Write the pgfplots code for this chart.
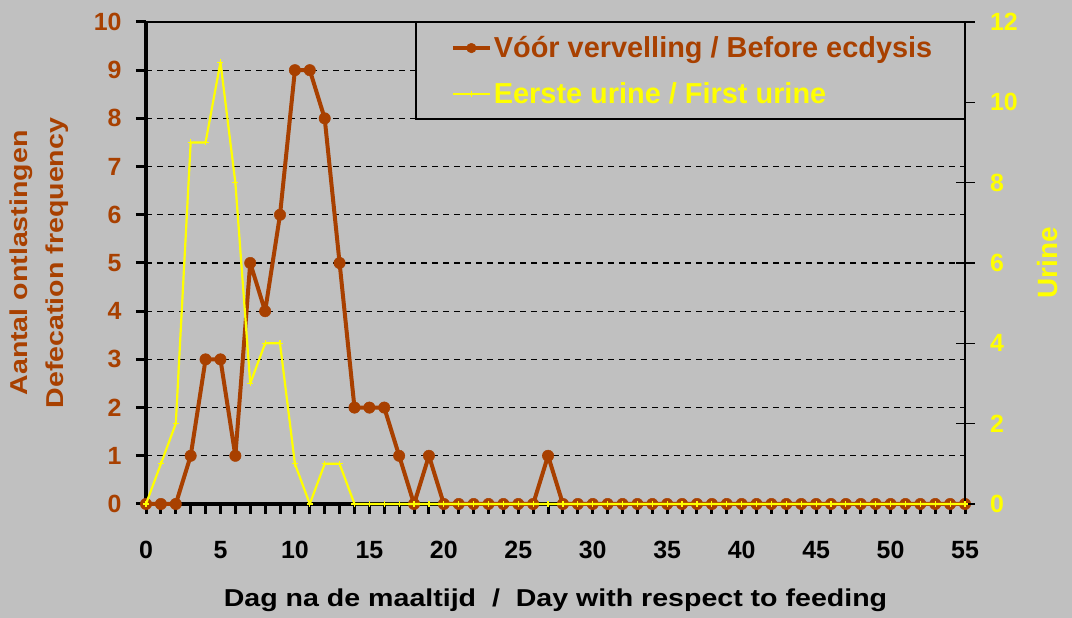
\documentclass[border=0pt]{standalone}
\usepackage{pgfplots}
\pgfplotsset{compat=1.18}
\usepackage{fontspec}
\setmainfont{Liberation Sans}
\newfontface\titlefont{Liberation Sans Bold}[FakeStretch=1.17]
\definecolor{bgc}{RGB}{192,192,192}
\definecolor{brownc}{RGB}{168,64,0}
\definecolor{yelc}{RGB}{255,255,0}
\pgfplotsset{
  brownstyle/.style={color=brownc, line width=4bp, line join=round, mark=*, mark size=5.7bp, mark options={solid, fill=brownc, line width=0.5bp}},
  yelstyle/.style={color=yelc, line width=2.2bp, line join=round, mark=+, mark size=3bp, mark options={solid, line width=1.2bp}},
}
\begin{document}
\begin{tikzpicture}[x=1bp,y=1bp]
\fill[bgc] (0,0) rectangle (1072,618);
\begin{axis}[
  at={(146bp,114bp)}, anchor=south west,
  scale only axis, width=819bp, height=482bp,
  xmin=0, xmax=55, ymin=0, ymax=10,
  axis x line*=bottom, axis y line*=left,
  x axis line style={-, line width=4bp},
  y axis line style={-, line width=4bp},
  xtick={0,5,...,55}, minor x tick num=4,
  ytick={0,...,10},
  tick align=outside,
  major tick length=10bp, minor tick length=10bp,
  tick style={black, line width=3bp},
  ymajorgrids,
  major grid style={black, line width=1.2bp, dash pattern=on 6bp off 5bp},
  /pgf/number format/assume math mode=true,
  xticklabel style={font=\bfseries\fontsize{25}{25}\selectfont, text=black, yshift=-24bp},
  yticklabel style={font=\bfseries\fontsize{25}{25}\selectfont, text=brownc, xshift=-11bp},
  xlabel={Dag na de maaltijd\ \ /\ \ Day with respect to feeding},
  every axis x label/.style={at={(axis description cs:0.5,0)}, anchor=center, yshift=-96bp,
     font=\titlefont\fontsize{24.5}{24.5}\selectfont, text=black},
  ylabel={Aantal ontlastingen\\Defecation frequency},
  every axis y label/.style={at={(axis description cs:0,0.5)}, anchor=center, rotate=90, yshift=107bp,
     font=\titlefont\fontsize{24.5}{36}\selectfont, text=brownc, align=center},
  clip=false,
]
\addplot[brownstyle] coordinates {
(0,0) (1,0) (2,0) (3,1) (4,3) (5,3) (6,1) (7,5) (8,4) (9,6)
(10,9) (11,9) (12,8) (13,5) (14,2) (15,2) (16,2) (17,1) (18,0) (19,1)
(20,0) (21,0) (22,0) (23,0) (24,0) (25,0) (26,0) (27,1) (28,0) (29,0)
(30,0) (31,0) (32,0) (33,0) (34,0) (35,0) (36,0) (37,0) (38,0) (39,0)
(40,0) (41,0) (42,0) (43,0) (44,0) (45,0) (46,0) (47,0) (48,0) (49,0)
(50,0) (51,0) (52,0) (53,0) (54,0) (55,0)};
\end{axis}
\begin{axis}[
  at={(146bp,114bp)}, anchor=south west,
  scale only axis, width=819bp, height=482bp,
  xmin=0, xmax=55, ymin=0, ymax=12,
  axis x line*=top, axis y line*=right,
  x axis line style={-, line width=1.5bp},
  y axis line style={-, line width=2bp},
  xtick=\empty, ytick={0,2,...,12},
  tick align=center, major tick length=19bp,
  tick style={black, line width=1.5bp},
  /pgf/number format/assume math mode=true,
  yticklabel style={font=\bfseries\fontsize{25}{25}\selectfont, text=yelc, xshift=12bp},
  ylabel={Urine},
  every axis y label/.style={at={(axis description cs:1,0.5)}, anchor=center, rotate=90, yshift=-83bp,
     font=\bfseries\fontsize{28}{28}\selectfont, text=yelc},
  clip=false,
  legend style={at={(1,1)}, anchor=north east, draw=black, line width=1.5bp, fill=bgc,
    font=\bfseries\fontsize{29}{29}\selectfont, inner xsep=30bp, inner ysep=12bp, row sep=19bp},
  legend cell align=left,
  legend image code/.code={\path (-5bp,0bp); \draw[mark repeat=2,mark phase=2,#1] plot coordinates {(0bp,0bp) (18.5bp,0bp) (37bp,0bp)};},
]
\addlegendimage{brownstyle, mark size=4.8bp}
\addlegendentry{\textcolor{brownc}{Vóór vervelling / Before ecdysis}}
\addplot[yelstyle] coordinates {
(0,0) (1,1) (2,2) (3,9) (4,9) (5,11) (6,8) (7,3) (8,4) (9,4)
(10,1) (11,0) (12,1) (13,1) (14,0) (15,0) (16,0) (17,0) (18,0) (19,0)
(20,0) (21,0) (22,0) (23,0) (24,0) (25,0) (26,0) (27,0) (28,0) (29,0)
(30,0) (31,0) (32,0) (33,0) (34,0) (35,0) (36,0) (37,0) (38,0) (39,0)
(40,0) (41,0) (42,0) (43,0) (44,0) (45,0) (46,0) (47,0) (48,0) (49,0)
(50,0) (51,0) (52,0) (53,0) (54,0) (55,0)};
\addlegendentry{\textcolor{yelc}{Eerste urine / First urine}}
\end{axis}
\end{tikzpicture}
\end{document}
